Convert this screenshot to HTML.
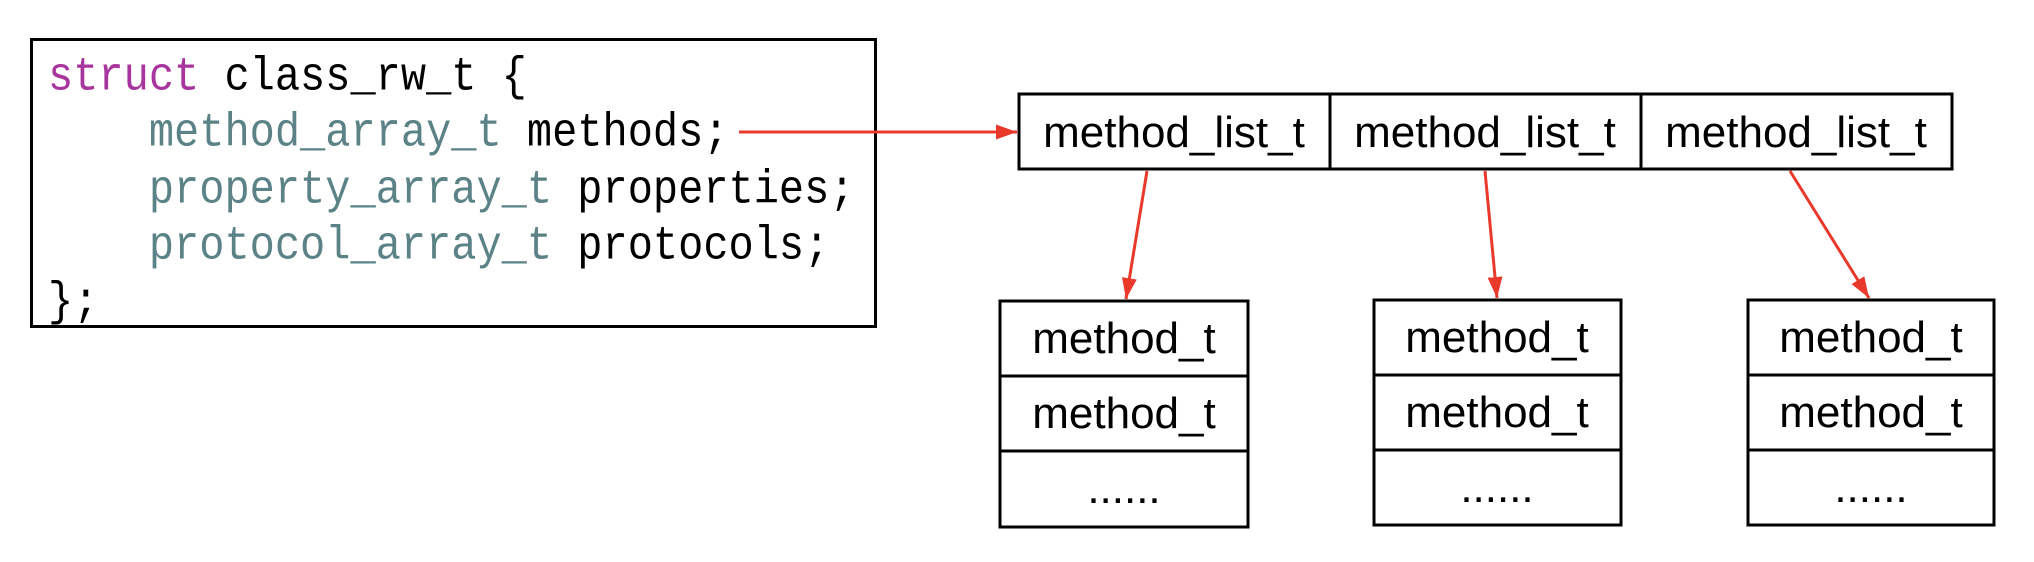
<!DOCTYPE html>
<html><head><meta charset="utf-8"><style>
html,body{margin:0;padding:0;background:#fff;}
body{width:2034px;height:562px;position:relative;overflow:hidden;}
.code{position:absolute;left:30px;top:38px;width:847px;height:290px;border:3px solid #000;box-sizing:border-box;}
.ln{position:absolute;left:15px;font-family:"Liberation Mono",monospace;font-size:42px;white-space:pre;color:#000;line-height:42px;transform:scaleY(1.12);transform-origin:0 50%;}
.k{color:#a8359d}.t{color:#5b8286}
.txt{font-family:"Liberation Sans",sans-serif;font-size:44px;text-anchor:middle;fill:#000;}
</style></head><body>
<div class="code">
<div class="ln" style="top:15px"><span class="k">struct</span> class_rw_t {</div>
<div class="ln" style="top:71px">    <span class="t">method_array_t</span> methods;</div>
<div class="ln" style="top:128px">    <span class="t">property_array_t</span> properties;</div>
<div class="ln" style="top:184px">    <span class="t">protocol_array_t</span> protocols;</div>
<div class="ln" style="top:240px">};</div>
</div>
<svg width="2034" height="562" style="position:absolute;left:0;top:0">
<g fill="none" stroke="#000" stroke-width="3">
<rect x="1019" y="94" width="933" height="75"/>
<line x1="1330" y1="94" x2="1330" y2="169"/>
<line x1="1641" y1="94" x2="1641" y2="169"/>
<rect x="1000" y="301" width="248" height="226"/>
<line x1="1000" y1="376" x2="1248" y2="376"/><line x1="1000" y1="451" x2="1248" y2="451"/>
<rect x="1374" y="300" width="247" height="225"/>
<line x1="1374" y1="375" x2="1621" y2="375"/><line x1="1374" y1="450" x2="1621" y2="450"/>
<rect x="1748" y="300" width="246" height="225"/>
<line x1="1748" y1="375" x2="1994" y2="375"/><line x1="1748" y1="450" x2="1994" y2="450"/>
</g>
<g>
<text class="txt" x="1174" y="147">method_list_t</text>
<text class="txt" x="1485" y="147">method_list_t</text>
<text class="txt" x="1796" y="147">method_list_t</text>
<text class="txt" x="1124" y="353">method_t</text>
<text class="txt" x="1124" y="428">method_t</text>
<text class="txt" x="1124" y="503">......</text>
<text class="txt" x="1497" y="352">method_t</text>
<text class="txt" x="1497" y="427">method_t</text>
<text class="txt" x="1497" y="502">......</text>
<text class="txt" x="1871" y="352">method_t</text>
<text class="txt" x="1871" y="427">method_t</text>
<text class="txt" x="1871" y="502">......</text>
</g>
<defs><marker id="a" markerWidth="7" markerHeight="5" refX="7" refY="2.5" orient="auto" markerUnits="strokeWidth"><path d="M0,0 L7,2.5 L0,5 z" fill="#e8392a"/></marker></defs>
<g stroke="#e8392a" stroke-width="3" marker-end="url(#a)">
<line x1="739" y1="132" x2="1017" y2="132"/>
<line x1="1147" y1="171" x2="1126" y2="299"/>
<line x1="1485" y1="171" x2="1497" y2="298"/>
<line x1="1790" y1="171" x2="1869" y2="298"/>
</g>
</svg>
</body></html>
